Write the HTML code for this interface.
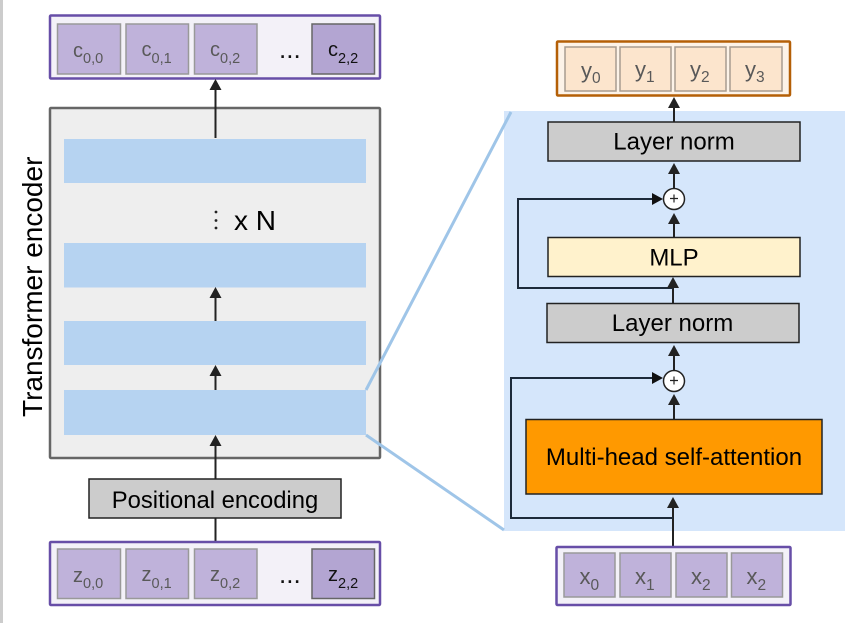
<!DOCTYPE html>
<html><head><meta charset="utf-8"><style>
html,body{margin:0;padding:0;background:#fff;width:855px;height:623px;overflow:hidden}
svg{display:block}
text{font-family:"Liberation Sans",sans-serif}
.c{fill:#bfb2da;stroke:#999;stroke-width:1.5}
.d{fill:#b3a5d2;stroke:#666;stroke-width:1.5}
.o{fill:#fce5cd;stroke:#a89c90;stroke-width:1.5}
.l{fill:#595959;font-size:20px}
.k{fill:#111;font-size:20px}
.s{font-size:14.5px}
.v{font-size:15.5px}
.a{stroke:#222;stroke-width:2;fill:none}
.h{fill:#222}
.b{fill:#b6d3f1}
.g{fill:#ccc;stroke:#222;stroke-width:1.5}
.t{fill:#000;font-size:24px;text-anchor:middle}
</style></head><body>
<svg width="855" height="623" viewBox="0 0 855 623" xmlns="http://www.w3.org/2000/svg">
<rect x="0" y="0" width="3" height="623" fill="#ccc"/>
<rect x="504" y="111" width="341" height="420" fill="#d5e6fb"/>

<!-- top tokens -->
<rect x="50" y="15.500" width="330" height="63" rx="1" fill="#f3f1f8" stroke="#674ea7" stroke-width="2.500"/>
<rect class="c" x="57.500" y="24" width="63" height="50"/>
<rect class="c" x="126" y="24" width="62.500" height="50"/>
<rect class="c" x="194.500" y="24" width="62.500" height="50"/>
<rect class="d" x="312" y="24" width="62.500" height="50"/>
<text class="l" x="73" y="57">c<tspan class="s" dy="6">0,0</tspan></text>
<text class="l" x="141.500" y="56">c<tspan class="s" dy="7">0,1</tspan></text>
<text class="l" x="210" y="56">c<tspan class="s" dy="7">0,2</tspan></text>
<text class="k" x="279" y="58" style="font-size:26px">...</text>
<text class="k" x="328" y="56">c<tspan class="s" dy="7">2,2</tspan></text>

<!-- encoder -->
<rect x="50" y="108" width="330" height="350" rx="1" fill="#eee" stroke="#666" stroke-width="2.500"/>
<rect class="b" x="64" y="139" width="302" height="44"/>
<rect class="b" x="64" y="243" width="302" height="44.500"/>
<rect class="b" x="64" y="321" width="302" height="44"/>
<rect class="b" x="64" y="390" width="302" height="45"/>
<circle cx="216" cy="212" r="1.400" fill="#222"/><circle cx="216" cy="220.500" r="1.400" fill="#222"/><circle cx="216" cy="228" r="1.400" fill="#222"/>
<text x="234" y="230" style="font-size:28px" fill="#000">x N</text>
<text transform="translate(42 417) rotate(-90)" x="0" y="0" style="font-size:28px" fill="#000">Transformer encoder</text>

<path d="M366 390 L511 112 M366 435 L504 530" stroke="#9fc5e8" stroke-width="3" fill="none"/>

<!-- left arrows -->
<path class="a" d="M215.500 138 V88 M215.500 321 V296 M215.500 390 V374 M215.500 479 V444 M215.500 542 V518"/>
<path class="h" d="M215.500 79 l-6 11 h12z"/>
<path class="h" d="M215.500 287 l-6 11 h12z"/>
<path class="h" d="M215.500 365 l-6 11 h12z"/>
<path class="h" d="M215.500 435 l-6 11 h12z"/>

<!-- positional -->
<rect class="g" x="89" y="479" width="252" height="39"/>
<text class="t" x="215" y="508" style="font-size:23.800px">Positional encoding</text>

<!-- z tokens -->
<rect x="50" y="542" width="330" height="63" rx="1" fill="#f3f1f8" stroke="#674ea7" stroke-width="2.500"/>
<rect class="c" x="57.500" y="549" width="63" height="49.500"/>
<rect class="c" x="126" y="549" width="62.500" height="49.500"/>
<rect class="c" x="194.500" y="549" width="62.500" height="49.500"/>
<rect class="d" x="312" y="549" width="62.500" height="49.500"/>
<text class="l" x="73" y="582">z<tspan class="s" dy="6">0,0</tspan></text>
<text class="l" x="141.500" y="581">z<tspan class="s" dy="7">0,1</tspan></text>
<text class="l" x="210" y="581">z<tspan class="s" dy="7">0,2</tspan></text>
<text class="k" x="279" y="583" style="font-size:26px">...</text>
<text class="k" x="328" y="581">z<tspan class="s" dy="7">2,2</tspan></text>

<!-- y tokens -->
<rect x="557" y="41.500" width="233" height="54" rx="1" fill="#fdf3e8" stroke="#b45f06" stroke-width="2.500"/>
<rect class="o" x="565" y="47" width="51" height="44"/>
<rect class="o" x="620" y="47" width="51" height="44"/>
<rect class="o" x="675" y="47" width="51" height="44"/>
<rect class="o" x="730" y="47" width="52" height="44"/>
<text class="l" x="581" y="78" style="font-size:22px">y<tspan class="v" dy="5">0</tspan></text>
<text class="l" x="635" y="77" style="font-size:22px">y<tspan class="v" dy="5">1</tspan></text>
<text class="l" x="690" y="77" style="font-size:22px">y<tspan class="v" dy="5">2</tspan></text>
<text class="l" x="745" y="77" style="font-size:22px">y<tspan class="v" dy="5">3</tspan></text>

<!-- right column arrows -->
<path class="a" d="M674 122 V106 M674 188 V172 M674 237 V222 M673 303 V286 M674 370 V354 M674 419 V404 M673 547 V505"/>
<path d="M673 288 H518 V199 H654 M673 518 H511 V378 H654" stroke="#1c2a3a" stroke-width="2" fill="none"/>
<path class="h" d="M674 97 l-6 11 h12z"/>
<path class="h" d="M674 163 l-6 11 h12z"/>
<path class="h" d="M674 213 l-6 11 h12z"/>
<path class="h" d="M673 277 l-6 11 h12z"/>
<path class="h" d="M674 345 l-6 11 h12z"/>
<path class="h" d="M674 394 l-6 11 h12z"/>
<path class="h" d="M673 497 l-6 11 h12z"/>
<path d="M663 199 l-11 -6 v12z M663 378 l-11 -6 v12z" fill="#111"/>

<rect class="g" x="548" y="122" width="252" height="39"/>
<text class="t" x="674" y="149.500">Layer norm</text>
<circle cx="674" cy="199" r="10.500" fill="#fff" stroke="#222" stroke-width="1.500"/>
<path d="M670 198.500 h8 M674 194.500 v8" stroke="#222" stroke-width="1.200"/>
<rect x="548" y="237.500" width="252" height="39" fill="#fff2cc" stroke="#222" stroke-width="1.500"/>
<text class="t" x="674" y="265.500">MLP</text>
<rect class="g" x="547" y="303.500" width="252" height="39"/>
<text class="t" x="672.500" y="331">Layer norm</text>
<circle cx="674" cy="381" r="10.500" fill="#fff" stroke="#222" stroke-width="1.500"/>
<path d="M670 380.500 h8 M674 376.500 v8" stroke="#222" stroke-width="1.200"/>
<rect x="526" y="419.500" width="296" height="74.500" fill="#ff9900" stroke="#222" stroke-width="1.500"/>
<text class="t" x="674" y="465">Multi-head self-attention</text>

<!-- x tokens -->
<rect x="556.500" y="547" width="234" height="58" rx="1" fill="#f3f1f8" stroke="#674ea7" stroke-width="2.500"/>
<rect class="c" x="564" y="553" width="51" height="44"/>
<rect class="c" x="620" y="553" width="51" height="44"/>
<rect class="c" x="676" y="553" width="51" height="44"/>
<rect class="c" x="731.500" y="553" width="51" height="44"/>
<text class="l" x="579.500" y="584" style="font-size:22px">x<tspan class="v" dy="6">0</tspan></text>
<text class="l" x="635" y="584" style="font-size:22px">x<tspan class="v" dy="6">1</tspan></text>
<text class="l" x="691" y="584" style="font-size:22px">x<tspan class="v" dy="6">2</tspan></text>
<text class="l" x="746.500" y="584" style="font-size:22px">x<tspan class="v" dy="6">2</tspan></text>
</svg>
</body></html>
